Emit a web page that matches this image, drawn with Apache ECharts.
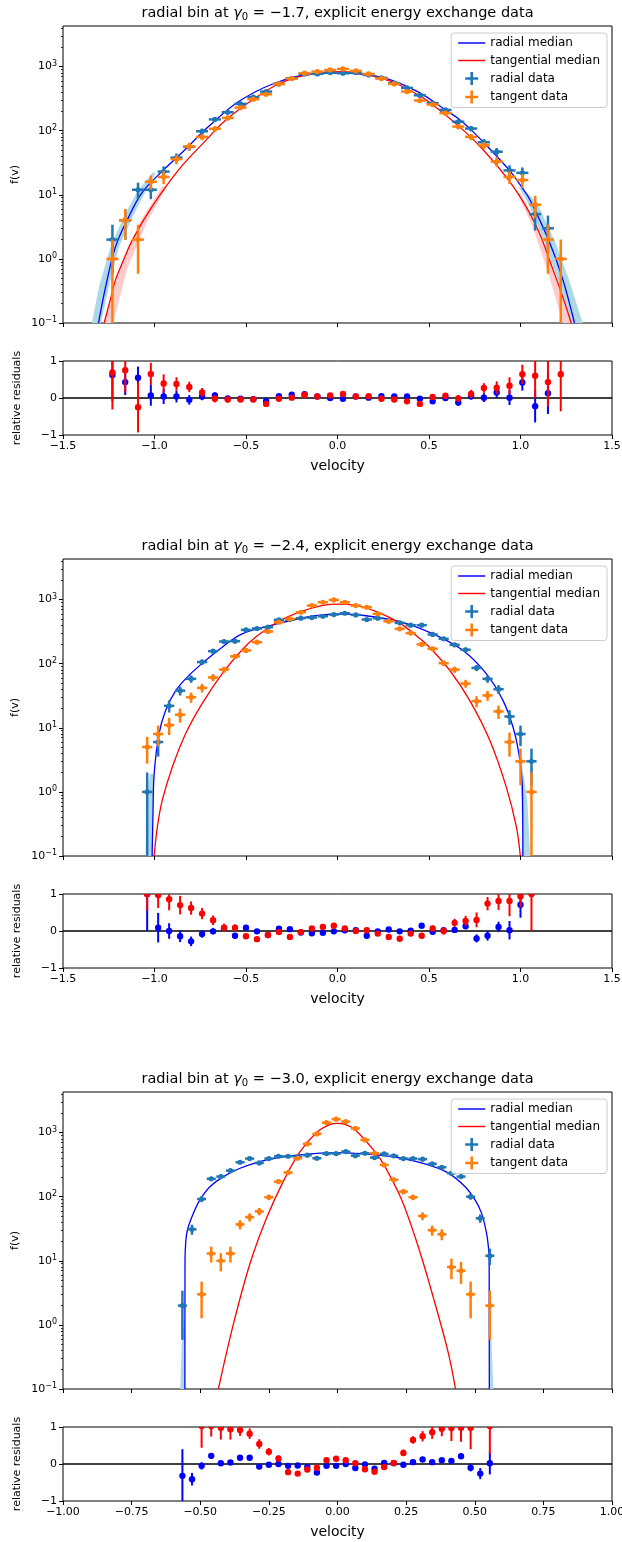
<!DOCTYPE html>
<html><head><meta charset="utf-8">
<script src="https://cdn.jsdelivr.net/npm/echarts@6/dist/echarts.min.js"></script>
<style>html,body{margin:0;padding:0;background:#fff}#c{width:622px;height:1542px}</style>
</head><body><div id="c"></div>
<script>
// ---------------- data ----------------
const gammaLabels = ['−1.7', '−2.4', '−3.0'];

// panel 1 (gamma0 = -1.7)
const p1_x = [-1.23,-1.16,-1.09,-1.02,-0.95,-0.88,-0.81,-0.74,-0.67,-0.60,-0.53,-0.46,-0.39,-0.32,-0.25,-0.18,-0.11,-0.04,0.03,0.10,0.17,0.24,0.31,0.38,0.45,0.52,0.59,0.66,0.73,0.80,0.87,0.94,1.01,1.08,1.15,1.22];
const p1_rad = [2,4,12,12,23,38,56,98,150,194,262,333,408,537,658,770,770,806,787,806,742,667,550,465,357,268,211,138,108,66,47,24,22,5,3,null];
const p1_tan = [1,4,2,16,19,36,57,80,107,158,229,310,370,537,650,790,836,887,920,857,768,650,537,408,296,256,188,116,80,59,33,19,17,7,2,1];
const p1_radRes = [0.62,0.43,0.55,0.07,0.04,0.04,-0.05,0.04,0.07,-0.01,-0.02,-0.03,-0.08,0.05,0.09,0.10,0.04,0.0,-0.02,0.04,0.01,0.05,0.04,0.04,-0.02,-0.09,0.0,-0.12,0.05,0.01,0.15,0.01,0.42,-0.22,0.13,null];
const p1_radResErr = [0.7,0.35,0.3,0.28,0.2,0.16,0.13,0.1,0.08,0.07,0.06,0.055,0.05,0.043,0.04,0.036,0.036,0.035,0.036,0.035,0.037,0.039,0.043,0.046,0.053,0.06,0.069,0.085,0.096,0.12,0.15,0.2,0.22,0.44,0.56,null];
const p1_tanRes = [0.69,0.75,-0.25,0.65,0.39,0.38,0.30,0.15,-0.02,-0.04,-0.04,-0.04,-0.16,-0.02,0.01,0.08,0.04,0.07,0.11,0.04,0.05,-0.02,-0.04,-0.09,-0.16,0.03,0.06,-0.01,0.11,0.27,0.28,0.33,0.64,0.60,0.43,0.64];
const p1_tanResErr = [1.0,0.6,0.68,0.3,0.25,0.18,0.14,0.12,0.1,0.08,0.066,0.057,0.052,0.043,0.04,0.036,0.035,0.034,0.034,0.035,0.036,0.04,0.043,0.05,0.058,0.063,0.073,0.093,0.11,0.13,0.17,0.23,0.26,0.6,0.66,1.0];
const p1_radMedian = [[-1.306,0.1],[-1.266,0.38],[-1.212,1.58],[-1.139,4.65],[-1.066,11],[-0.957,23.5],[-0.848,46],[-0.702,118],[-0.54,285],[-0.344,550],[-0.149,760],[0,790],[0.243,682],[0.438,408],[0.59,211],[0.66,155],[0.73,103],[0.80,65],[0.87,40],[0.94,24],[1.01,12.8],[1.05,8.5],[1.159,1.8],[1.231,0.48],[1.295,0.1]];
const p1_tanMedian = [[-1.275,0.1],[-1.24,0.24],[-1.212,0.48],[-1.17,0.95],[-1.12,2.0],[-1.011,6.7],[-0.866,25],[-0.721,70],[-0.612,145],[-0.46,310],[-0.32,540],[-0.18,730],[-0.04,830],[0.03,835],[0.17,735],[0.31,560],[0.45,350],[0.52,255],[0.631,141],[0.777,57.6],[0.959,13.6],[1.086,3.25],[1.177,0.69],[1.23,0.26],[1.277,0.1]];
const p1_radBands = [
  [[-1.342,0.1],[-1.302,0.38],[-1.239,1.58],[-1.166,4.65],[-1.093,11.4],[-1.011,22],[-0.993,22],[-1.048,11.4],[-1.117,4.65],[-1.193,1.58],[-1.248,0.38],[-1.293,0.1]],
  [[1.277,0.1],[1.204,0.48],[1.131,1.8],[1.04,7.5],[0.99,13],[1.005,13],[1.09,7.5],[1.191,1.8],[1.264,0.48],[1.34,0.1]]
];
const p1_tanBands = [
  [[-1.28,0.1],[-1.19,0.69],[-1.071,4.1],[-0.957,13.6],[-0.93,13.6],[-1.035,4.1],[-1.15,0.69],[-1.225,0.1]],
  [[1.232,0.1],[1.145,0.69],[1.065,3.25],[0.98,10.8],[0.999,10.8],[1.09,3.25],[1.177,0.69],[1.277,0.1]]
];

// panel 2 (gamma0 = -2.4)
const p2_x = [-1.04,-0.98,-0.92,-0.86,-0.80,-0.74,-0.68,-0.62,-0.56,-0.50,-0.44,-0.38,-0.32,-0.26,-0.20,-0.14,-0.08,-0.02,0.04,0.10,0.16,0.22,0.28,0.34,0.40,0.46,0.52,0.58,0.64,0.70,0.76,0.82,0.88,0.94,1.00,1.06];
const p2_rad = [1,6,22,38,58,106,157,222,225,337,354,371,483,489,513,525,550,585,613,577,489,513,466,434,399,399,286,245,197,165,86,58,40,15,8,3];
const p2_tan = [5,8,11,16,30,42,61,81,130,161,217,318,445,500,635,807,909,988,909,807,760,599,460,350,300,200,171,102,81,49,26,32,18,6,3,1];
const p2_radRes = [1.0,0.09,0.0,-0.14,-0.28,-0.08,-0.01,0.08,-0.13,0.09,-0.01,-0.11,0.06,0.05,-0.04,-0.06,-0.05,-0.01,0.02,0.02,-0.13,-0.01,0.04,-0.01,0.01,0.14,-0.02,0.02,0.03,0.13,-0.2,-0.13,0.11,0.02,0.71,null];
const p2_radResErr = [1.0,0.4,0.21,0.16,0.13,0.1,0.08,0.07,0.07,0.055,0.053,0.052,0.045,0.045,0.044,0.044,0.043,0.041,0.04,0.042,0.045,0.044,0.046,0.048,0.05,0.05,0.059,0.064,0.071,0.078,0.108,0.13,0.14,0.25,0.35,null];
const p2_tanRes = [1.0,0.97,0.86,0.70,0.62,0.47,0.29,0.09,0.09,-0.14,-0.22,-0.11,-0.03,-0.16,-0.03,0.07,0.11,0.14,0.07,0.0,0.02,-0.07,-0.16,-0.21,-0.07,-0.13,0.07,0.0,0.22,0.27,0.30,0.74,0.81,0.81,0.94,1.0];
const p2_tanResErr = [0.45,0.35,0.3,0.25,0.18,0.15,0.13,0.11,0.088,0.079,0.068,0.056,0.047,0.045,0.04,0.035,0.033,0.032,0.033,0.035,0.036,0.041,0.047,0.053,0.058,0.071,0.076,0.099,0.11,0.14,0.2,0.18,0.24,0.41,0.3,1.0];
const p2_radMedian = [[-1.013,0.1],[-1.008,0.5],[-1.002,1.9],[-0.975,8.1],[-0.939,18.8],[-0.884,38],[-0.811,66],[-0.721,112],[-0.63,181],[-0.521,292],[-0.345,408],[-0.15,545],[0,592],[0.144,565],[0.34,455],[0.522,292],[0.686,161],[0.813,70],[0.904,26.8],[0.959,10.3],[0.991,4],[1.01,1.2],[1.013,0.1]];
const p2_tanMedian = [[-1.002,0.1],[-0.984,0.29],[-0.957,0.75],[-0.902,2.47],[-0.83,8.1],[-0.739,24],[-0.63,70],[-0.521,165],[-0.44,270],[-0.32,460],[-0.2,650],[-0.08,810],[0,850],[0.1,810],[0.22,640],[0.34,430],[0.46,235],[0.504,180],[0.613,79],[0.722,26.8],[0.832,6.4],[0.922,1.2],[0.977,0.29],[0.999,0.1]];
const p2_radBands = [
  [[-1.048,0.1],[-1.039,0.75],[-1.026,1.9],[-1.0,1.9],[-1.008,0.75],[-1.015,0.1]],
  [[0.995,3.1],[1.006,0.75],[1.01,0.1],[1.053,0.1],[1.037,0.75],[1.004,3.1]]
];
const p2_tanBands = [];

// panel 3 (gamma0 = -3.0)
const p3_x = [-0.565,-0.53,-0.495,-0.46,-0.425,-0.39,-0.355,-0.32,-0.285,-0.25,-0.215,-0.18,-0.145,-0.11,-0.075,-0.04,-0.005,0.03,0.065,0.10,0.135,0.17,0.205,0.24,0.275,0.31,0.345,0.38,0.415,0.45,0.485,0.52,0.555];
const p3_rad = [2,31,92,190,206,255,345,393,336,393,428,428,418,444,398,470,470,506,437,476,408,465,434,393,393,385,325,288,233,206,100,46,12];
const p3_tan = [null,null,3,13,10,13,37,48,59,98,172,238,398,667,955,1432,1620,1486,1160,770,476,313,184,120,98,50,30,26,8,7,3,null,2];
const p3_radRes = [-0.32,-0.41,-0.05,0.22,0.02,0.04,0.17,0.17,-0.07,-0.02,0.0,-0.05,-0.04,-0.08,-0.23,-0.05,-0.05,0.0,-0.11,-0.01,-0.13,0.03,0.02,-0.02,0.05,0.12,0.05,0.10,0.08,0.21,-0.10,-0.26,0.02];
const p3_radResErr = [0.72,0.17,0.1,0.073,0.07,0.063,0.054,0.05,0.055,0.05,0.048,0.048,0.049,0.047,0.05,0.046,0.046,0.044,0.048,0.046,0.05,0.046,0.048,0.05,0.05,0.051,0.055,0.059,0.066,0.07,0.1,0.15,0.3];
const p3_tanRes = [null,null,1.02,1.02,0.98,0.94,0.92,0.82,0.54,0.33,0.15,-0.22,-0.26,-0.15,-0.10,0.10,0.14,0.10,0.02,-0.14,-0.21,-0.08,0.03,0.30,0.65,0.75,0.86,0.95,0.97,0.98,0.98,null,1.02];
const p3_tanResErr = [null,null,0.58,0.28,0.32,0.28,0.16,0.14,0.13,0.1,0.076,0.065,0.05,0.039,0.032,0.026,0.025,0.026,0.029,0.036,0.046,0.057,0.074,0.09,0.1,0.14,0.18,0.2,0.35,0.38,0.58,null,0.75];
const p3_radMedian = [[-0.556,0.1],[-0.5555,10.3],[-0.553,19],[-0.547,30],[-0.525,55],[-0.501,89],[-0.464,144],[-0.416,206],[-0.355,278],[-0.258,375],[-0.137,449],[0,488],[0.112,460],[0.234,398],[0.331,313],[0.404,233],[0.464,144],[0.501,89],[0.525,55],[0.543,27],[0.55,16],[0.5525,10.3],[0.553,0.1]];
const p3_tanMedian = [[-0.434,0.1],[-0.38,1.0],[-0.319,9],[-0.258,47],[-0.197,175],[-0.137,500],[-0.076,1000],[-0.027,1340],[0,1390],[0.03,1330],[0.064,1110],[0.137,500],[0.173,295],[0.234,89],[0.294,16.7],[0.355,2.18],[0.404,0.36],[0.43,0.1]];
const p3_radBands = [
  [[-0.575,0.06],[-0.566,0.7],[-0.556,1.2],[-0.556,0.06]],
  [[0.553,0.06],[0.553,1.2],[0.56,0.7],[0.57,0.06]]
];
const p3_tanBands = [];

// bin half widths (x error bars)
const binHalfWidth = [0.033, 0.028, 0.0165];
// axis ranges
const xMin = [-1.5, -1.5, -1.0], xMax = [1.5, 1.5, 1.0], xStep = [0.5, 0.5, 0.25], xDecimals = [1, 1, 2];
const fMajorTicks = [0.1, 1, 10, 100, 1000];
const fMinorTicks = [0.2,0.3,0.4,0.5,0.6,0.7,0.8,0.9,2,3,4,5,6,7,8,9,20,30,40,50,60,70,80,90,200,300,400,500,600,700,800,900,2000,3000,4000];

// ---------------- build ----------------
const panels = [
  {x:p1_x, rad:p1_rad, tan:p1_tan, rr:p1_radRes, rre:p1_radResErr, tr:p1_tanRes, tre:p1_tanResErr, rm:p1_radMedian, tm:p1_tanMedian, rb:p1_radBands, tb:p1_tanBands},
  {x:p2_x, rad:p2_rad, tan:p2_tan, rr:p2_radRes, rre:p2_radResErr, tr:p2_tanRes, tre:p2_tanResErr, rm:p2_radMedian, tm:p2_tanMedian, rb:p2_radBands, tb:p2_tanBands},
  {x:p3_x, rad:p3_rad, tan:p3_tan, rr:p3_radRes, rre:p3_radResErr, tr:p3_tanRes, tre:p3_tanResErr, rm:p3_radMedian, tm:p3_tanMedian, rb:p3_radBands, tb:p3_tanBands}
];

const FONT = 'DejaVu Sans';
const GL = 63, GW = 549;
const mainTop = [26, 559, 1092], mainH = 297;
const resTop = [361, 894, 1427], resH = 74;
const C_RAD = '#1f77b4', C_TAN = '#ff7f0e', C_RADM = '#0000ff', C_TANM = '#ff0000';
const C_RADBAND = '#add8e6', C_TANBAND = '#ffcccc';
const crossIcon = 'path://M0,5.2h13v2.6h-13zM5.2,0h2.6v13h-2.6z';
const lineIcon = 'path://M0,0h26v1.4h-26z';

const minus = s => String(s).replace('-', '−');

const grids = [], xAxes = [], yAxes = [], series = [], legends = [], titles = [];

panels.forEach((p, i) => {
  const gm = 2*i, gr = 2*i+1;
  grids.push({left:GL, top:mainTop[i], width:GW, height:mainH, show:true, borderColor:'#000', borderWidth:1, backgroundColor:'transparent', containLabel:false, outerBoundsMode:'none'});
  grids.push({left:GL, top:resTop[i], width:GW, height:resH, show:true, borderColor:'#000', borderWidth:1, backgroundColor:'transparent', containLabel:false, outerBoundsMode:'none'});

  const xBase = (g, showLabel) => ({
    type:'value', gridIndex:g, min:xMin[i], max:xMax[i], interval:xStep[i], position:'bottom',
    axisLine:{show:false, onZero:false}, splitLine:{show:false},
    axisTick:{show:true, length:4, lineStyle:{color:'#000', width:1}},
    axisLabel:{show:showLabel, color:'#000', fontSize:11, fontFamily:FONT, margin:6, showMinLabel:true, showMaxLabel:true,
      formatter: v => minus(v.toFixed(xDecimals[i]))},
    name: showLabel ? 'velocity' : '', nameLocation:'middle', nameGap:24,
    nameTextStyle:{color:'#000', fontSize:14, fontFamily:FONT}
  });
  xAxes.push(xBase(gm, false));
  xAxes.push(xBase(gr, true));

  yAxes[gm] = {
    type:'log', gridIndex:gm, min:0.1, max:4300, logBase:10, position:'left',
    axisLine:{show:false, onZero:false}, splitLine:{show:false}, minorTick:{show:false},
    axisTick:{show:true, length:4, customValues:fMajorTicks, lineStyle:{color:'#000'}},
    axisLabel:{color:'#000', fontFamily:FONT, margin:6, customValues:fMajorTicks,
      formatter: v => { const e = Math.round(Math.log10(v)); return '{b|10}{s|' + minus(e) + '}'; },
      rich:{ b:{fontSize:11, fontFamily:FONT, color:'#000', lineHeight:14}, s:{fontSize:8, fontFamily:FONT, color:'#000', verticalAlign:'top', lineHeight:6} }
    },
    name:'f(v)', nameLocation:'middle', nameRotate:90, nameGap:40,
    nameTextStyle:{color:'#000', fontSize:11, fontFamily:FONT}
  };
  yAxes[gr] = {
    type:'value', gridIndex:gr, min:-1, max:1, interval:1, position:'left',
    axisLine:{show:false, onZero:false}, splitLine:{show:false},
    axisTick:{show:true, length:4, lineStyle:{color:'#000'}},
    axisLabel:{color:'#000', fontSize:11, fontFamily:FONT, margin:6, formatter: v => minus(v)},
    name:'relative residuals', nameLocation:'middle', nameRotate:90, nameGap:40,
    nameTextStyle:{color:'#000', fontSize:11, fontFamily:FONT}
  };
  yAxes[6+i] = {
    type:'log', gridIndex:gm, min:0.1, max:4300, logBase:10, position:'left', offset:0,
    axisLine:{show:false, onZero:false}, splitLine:{show:false}, axisLabel:{show:false},
    axisTick:{show:true, length:2, customValues:fMinorTicks, lineStyle:{color:'#000', width:0.8}}
  };

  // bands
  const band = (pts, color) => ({
    type:'custom', xAxisIndex:gm, yAxisIndex:gm, data:[pts[0]], clip:true, silent:true, z:1,
    renderItem:(params, api) => ({type:'polygon', shape:{points: pts.map(q => api.coord(q))}, style:{fill:color}})
  });
  p.rb.forEach(b => series.push(band(b, C_RADBAND)));
  p.tb.forEach(b => series.push(band(b, C_TANBAND)));

  // medians
  const med = (name, arr, color) => ({
    name, type:'line', xAxisIndex:gm, yAxisIndex:gm, data:arr, symbol:'none', showSymbol:false,
    smooth:0.35, clip:true, silent:true, z:2, lineStyle:{color, width:1.3}, itemStyle:{color}
  });
  series.push(med('radial median', p.rm, C_RADM));
  series.push(med('tangential median', p.tm, C_TANM));

  // main data error bars
  const hw = binHalfWidth[i];
  const dataSeries = (name, vals, color, z) => ({
    name, type:'custom', xAxisIndex:gm, yAxisIndex:gm, clip:true, silent:true, z,
    itemStyle:{color},
    data: p.x.map((x, k) => vals[k] == null ? null : [x, vals[k]]).filter(d => d),
    renderItem:(params, api) => {
      const x = api.value(0), y = api.value(1), e = Math.sqrt(y);
      const c = api.coord([x, y]);
      const l = api.coord([x - hw, y]), r = api.coord([x + hw, y]);
      const t = api.coord([x, y + e]), b = api.coord([x, Math.max(y - e, 1e-4)]);
      return {type:'group', children:[
        {type:'line', shape:{x1:l[0], y1:c[1], x2:r[0], y2:c[1]}, style:{stroke:color, lineWidth:2.5}},
        {type:'line', shape:{x1:c[0], y1:t[1], x2:c[0], y2:b[1]}, style:{stroke:color, lineWidth:2.5}},
        {type:'circle', shape:{cx:c[0], cy:c[1], r:2.6}, style:{fill:color}}
      ]};
    }
  });
  series.push(dataSeries('radial data', p.rad, C_RAD, 3));
  series.push(dataSeries('tangent data', p.tan, C_TAN, 4));

  // residuals
  const resSeries = (vals, errs, color, z, withLine) => {
    const s = {
      type:'custom', xAxisIndex:gr, yAxisIndex:gr, clip:true, silent:true, z,
      itemStyle:{color},
      data: p.x.map((x, k) => vals[k] == null ? null : [x, vals[k], errs[k]]).filter(d => d),
      renderItem:(params, api) => {
        const x = api.value(0), y = api.value(1), e = api.value(2);
        const c = api.coord([x, y]), t = api.coord([x, y + e]), b = api.coord([x, y - e]);
        return {type:'group', children:[
          {type:'line', shape:{x1:c[0], y1:t[1], x2:c[0], y2:b[1]}, style:{stroke:color, lineWidth:2}},
          {type:'circle', shape:{cx:c[0], cy:c[1], r:3.2}, style:{fill:color}}
        ]};
      }
    };
    if (withLine) s.markLine = {silent:true, symbol:['none','none'], label:{show:false}, z:1,
      lineStyle:{color:'#000', width:1.5, type:'solid'}, data:[{yAxis:0}]};
    return s;
  };
  series.push(resSeries(p.rr, p.rre, C_RADM, 3, true));
  series.push(resSeries(p.tr, p.tre, C_TANM, 4, false));

  legends.push({
    orient:'vertical', right:15, top:mainTop[i] + 7, selectedMode:false,
    itemWidth:27, itemHeight:13, itemGap:5.5, padding:[4, 7, 4, 7],
    backgroundColor:'rgba(255,255,255,0.8)', borderColor:'#cccccc', borderWidth:1, borderRadius:3,
    textStyle:{color:'#000', fontSize:12, fontFamily:FONT},
    data:[{name:'radial median', icon:lineIcon}, {name:'tangential median', icon:lineIcon},
          {name:'radial data', icon:crossIcon}, {name:'tangent data', icon:crossIcon}]
  });

  titles.push({
    text:'{n|radial bin at }{g|γ}{s|0}{n| = ' + gammaLabels[i] + ', explicit energy exchange data}',
    left:337.5, top:mainTop[i] - 21, textAlign:'center', padding:0,
    textStyle:{fontWeight:'normal', fontSize:14.5, color:'#000', fontFamily:FONT, rich:{
      n:{fontSize:14.5, fontFamily:FONT, fontWeight:'normal', color:'#000', lineHeight:17},
      g:{fontSize:14.5, fontFamily:FONT, fontWeight:'normal', fontStyle:'italic', color:'#000', lineHeight:17},
      s:{fontSize:10, fontFamily:FONT, fontWeight:'normal', color:'#000', verticalAlign:'bottom', lineHeight:10}
    }}
  });
});

const chart = echarts.init(document.getElementById('c'), null, {renderer:'canvas'});
chart.setOption({
  animation:false,
  backgroundColor:'#fff',
  textStyle:{fontFamily:FONT},
  title:titles, legend:legends, grid:grids, xAxis:xAxes, yAxis:yAxes, series
});
</script></body></html>
